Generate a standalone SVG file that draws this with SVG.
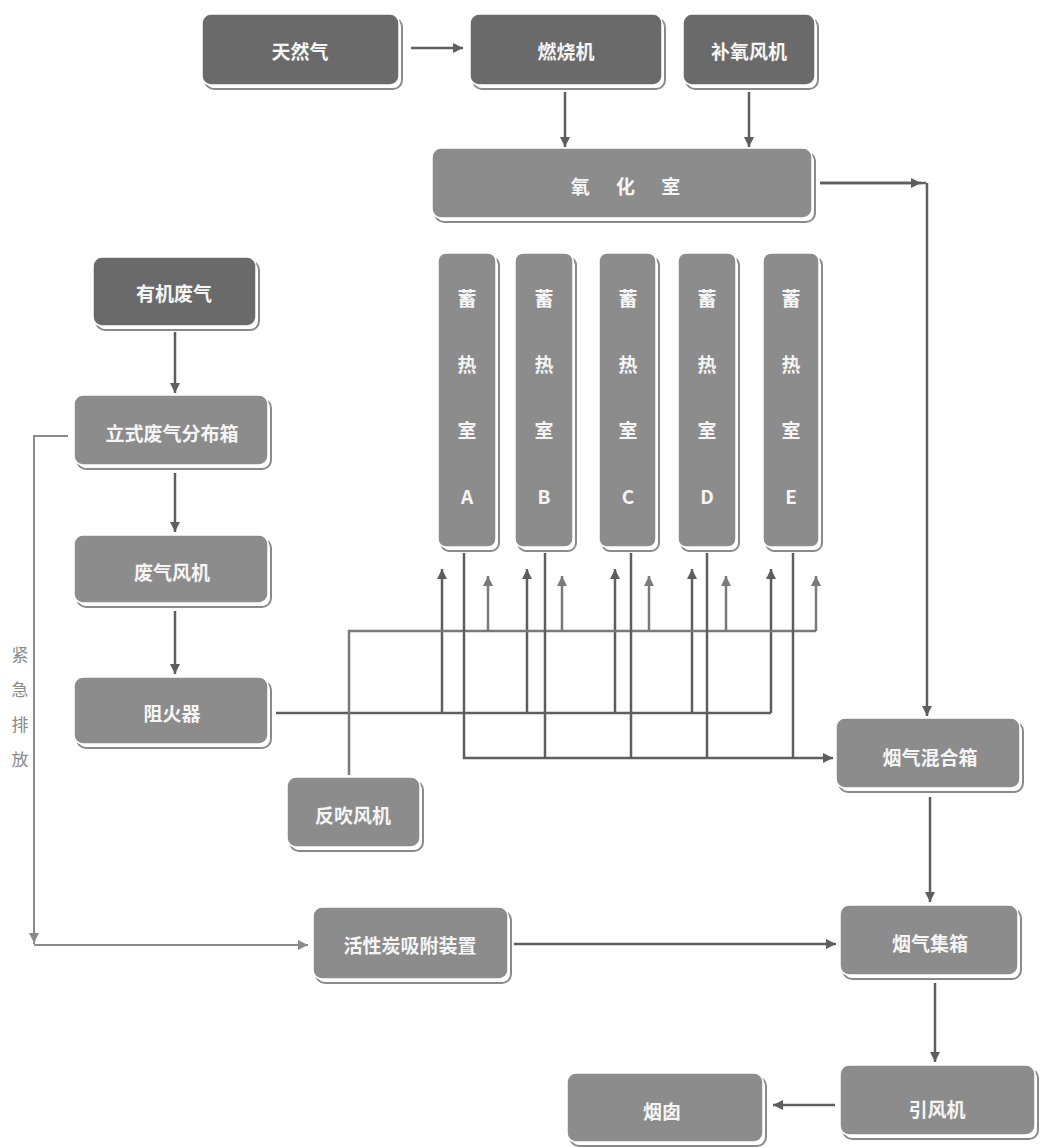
<svg xmlns="http://www.w3.org/2000/svg" width="1041" height="1148" viewBox="0 0 1041 1148">
<style>
.sh{fill:#fff;stroke:#8a8a8a;stroke-width:2}
.bx{fill:#8c8c8c;stroke:#fff;stroke-width:1.5}
.dk{fill:#6a6a6a;stroke:#fff;stroke-width:1.5}
.t{fill:#f5f5f5;font-family:"Noto Sans CJK SC","Noto Sans",sans-serif;font-size:19px;font-weight:bold;text-anchor:middle;dominant-baseline:central}
.tv{fill:#f5f5f5;font-family:"Noto Sans CJK SC","Noto Sans",sans-serif;font-size:19px;font-weight:bold;text-anchor:middle;dominant-baseline:central}
.c{fill:none;stroke:#5e5e5e;stroke-width:2.5}
.cl{fill:none;stroke:#7a7a7a;stroke-width:2.5}
.ce{fill:none;stroke:#8a8a8a;stroke-width:2}
.lab{fill:#8a8a8a;font-family:"Noto Sans CJK SC",sans-serif;font-size:17px;text-anchor:middle;dominant-baseline:central}
</style>
<defs>
<marker id="ah" viewBox="0 0 10 10" refX="10" refY="5" markerWidth="10" markerHeight="10" markerUnits="userSpaceOnUse" orient="auto"><path d="M0,0 L10,5 L0,10 z" fill="#5e5e5e"/></marker>
<marker id="ahl" viewBox="0 0 10 10" refX="10" refY="5" markerWidth="10" markerHeight="10" markerUnits="userSpaceOnUse" orient="auto"><path d="M0,0 L10,5 L0,10 z" fill="#7a7a7a"/></marker>
<marker id="ahe" viewBox="0 0 10 10" refX="10" refY="5" markerWidth="10" markerHeight="10" markerUnits="userSpaceOnUse" orient="auto"><path d="M0,0 L10,5 L0,10 z" fill="#8a8a8a"/></marker>
</defs>
<rect width="1041" height="1148" fill="#fff"/>

<g id="connectors">
<path class="c" d="M411,48 H463" marker-end="url(#ah)"/>
<path class="c" d="M565,92 V147" marker-end="url(#ah)"/>
<path class="c" d="M749,92 V147" marker-end="url(#ah)"/>
<path class="c" d="M820,183 H926"/>
<path class="c" d="M820,183 H921" marker-end="url(#ah)"/>
<path class="c" d="M927,183 V716" marker-end="url(#ah)"/>
<path class="c" d="M175,332 V393" marker-end="url(#ah)"/>
<path class="c" d="M175,473 V532" marker-end="url(#ah)"/>
<path class="c" d="M175,611 V674" marker-end="url(#ah)"/>
<path class="c" d="M276,713 H771"/>
<path class="c" d="M442,713 V569" marker-end="url(#ah)"/>
<path class="c" d="M527,713 V569" marker-end="url(#ah)"/>
<path class="c" d="M615,713 V569" marker-end="url(#ah)"/>
<path class="c" d="M692,713 V569" marker-end="url(#ah)"/>
<path class="c" d="M771,713 V569" marker-end="url(#ah)"/>
<path class="cl" d="M349,775 V631 H816"/>
<path class="cl" d="M488,631 V576" marker-end="url(#ahl)"/>
<path class="cl" d="M562,631 V576" marker-end="url(#ahl)"/>
<path class="cl" d="M649,631 V576" marker-end="url(#ahl)"/>
<path class="cl" d="M726,631 V576" marker-end="url(#ahl)"/>
<path class="cl" d="M816,631 V576" marker-end="url(#ahl)"/>
<path class="c" d="M464,553 V758 H833" marker-end="url(#ah)"/>
<path class="c" d="M545,553 V758"/>
<path class="c" d="M631,553 V758"/>
<path class="c" d="M707,553 V758"/>
<path class="c" d="M793,553 V758"/>
<path class="c" d="M930,797 V902" marker-end="url(#ah)"/>
<path class="c" d="M514,944 H836" marker-end="url(#ah)"/>
<path class="c" d="M935,983 V1062" marker-end="url(#ah)"/>
<path class="c" d="M835,1105 H773" marker-end="url(#ah)"/>
<path class="ce" d="M68,436 H34 V944"/>
<path class="ce" d="M34,920 V943" marker-end="url(#ahe)"/>
<path class="ce" d="M34,945 H308" marker-end="url(#ahe)"/>
</g>

<g id="label-emergency">
<text class="lab" x="20" y="653">紧</text>
<text class="lab" x="20" y="688">急</text>
<text class="lab" x="20" y="723">排</text>
<text class="lab" x="20" y="758">放</text>
</g>

<g id="n-tianranqi"><rect class="sh" x="205" y="18" width="197" height="71" rx="9"/><rect class="dk" x="202" y="14" width="197" height="71" rx="9"/><text class="t" x="300" y="50">天然气</text></g>
<g id="n-ranshaoji"><rect class="sh" x="473" y="18" width="192" height="71" rx="9"/><rect class="dk" x="470" y="14" width="192" height="71" rx="9"/><text class="t" x="566" y="50">燃烧机</text></g>
<g id="n-buyangfengji"><rect class="sh" x="686" y="18" width="132" height="71" rx="9"/><rect class="dk" x="683" y="14" width="132" height="71" rx="9"/><text class="t" x="749" y="50">补氧风机</text></g>
<g id="n-yanghuashi"><rect class="sh" x="435" y="152" width="380" height="70" rx="9"/><rect class="bx" x="432" y="148" width="380" height="70" rx="9"/><text class="t" x="631" y="185" letter-spacing="11">氧 化 室</text></g>

<g id="n-xureA"><rect class="sh" x="441" y="257" width="58" height="294" rx="8"/><rect class="bx" x="438" y="253" width="58" height="294" rx="8"/><text class="tv" x="467" y="297">蓄</text><text class="tv" x="467" y="363">热</text><text class="tv" x="467" y="429">室</text><text class="tv" x="467" y="495">A</text></g>
<g id="n-xureB"><rect class="sh" x="518" y="257" width="58" height="294" rx="8"/><rect class="bx" x="515" y="253" width="58" height="294" rx="8"/><text class="tv" x="544" y="297">蓄</text><text class="tv" x="544" y="363">热</text><text class="tv" x="544" y="429">室</text><text class="tv" x="544" y="495">B</text></g>
<g id="n-xureC"><rect class="sh" x="602" y="257" width="57" height="294" rx="8"/><rect class="bx" x="599" y="253" width="57" height="294" rx="8"/><text class="tv" x="628" y="297">蓄</text><text class="tv" x="628" y="363">热</text><text class="tv" x="628" y="429">室</text><text class="tv" x="628" y="495">C</text></g>
<g id="n-xureD"><rect class="sh" x="681" y="257" width="58" height="294" rx="8"/><rect class="bx" x="678" y="253" width="58" height="294" rx="8"/><text class="tv" x="707" y="297">蓄</text><text class="tv" x="707" y="363">热</text><text class="tv" x="707" y="429">室</text><text class="tv" x="707" y="495">D</text></g>
<g id="n-xureE"><rect class="sh" x="766" y="257" width="56" height="294" rx="8"/><rect class="bx" x="763" y="253" width="56" height="294" rx="8"/><text class="tv" x="791" y="297">蓄</text><text class="tv" x="791" y="363">热</text><text class="tv" x="791" y="429">室</text><text class="tv" x="791" y="495">E</text></g>

<g id="n-youjifeiqi"><rect class="sh" x="96" y="261" width="163" height="69" rx="9"/><rect class="dk" x="93" y="257" width="163" height="69" rx="9"/><text class="t" x="174" y="292">有机废气</text></g>
<g id="n-lishi"><rect class="sh" x="77" y="399" width="194" height="70" rx="9"/><rect class="bx" x="74" y="395" width="194" height="70" rx="9"/><text class="t" x="172" y="432">立式废气分布箱</text></g>
<g id="n-feiqifengji"><rect class="sh" x="77" y="539" width="194" height="68" rx="9"/><rect class="bx" x="74" y="535" width="194" height="68" rx="9"/><text class="t" x="172" y="571">废气风机</text></g>
<g id="n-zuhuoqi"><rect class="sh" x="77" y="681" width="194" height="67" rx="9"/><rect class="bx" x="74" y="677" width="194" height="67" rx="9"/><text class="t" x="172" y="712">阻火器</text></g>
<g id="n-fanchui"><rect class="sh" x="290" y="781" width="133" height="70" rx="9"/><rect class="bx" x="287" y="777" width="133" height="70" rx="9"/><text class="t" x="353" y="814">反吹风机</text></g>
<g id="n-huoxingtan"><rect class="sh" x="316" y="911" width="195" height="72" rx="9"/><rect class="bx" x="313" y="907" width="195" height="72" rx="9"/><text class="t" x="410" y="944">活性炭吸附装置</text></g>
<g id="n-hunhexiang"><rect class="sh" x="839" y="722" width="184" height="70" rx="9"/><rect class="bx" x="836" y="718" width="184" height="70" rx="9"/><text class="t" x="930" y="756">烟气混合箱</text></g>
<g id="n-jixiang"><rect class="sh" x="843" y="909" width="178" height="70" rx="9"/><rect class="bx" x="840" y="905" width="178" height="70" rx="9"/><text class="t" x="930" y="942">烟气集箱</text></g>
<g id="n-yinfengji"><rect class="sh" x="843" y="1069" width="195" height="70" rx="9"/><rect class="bx" x="840" y="1065" width="195" height="70" rx="9"/><text class="t" x="937" y="1108">引风机</text></g>
<g id="n-yancong"><rect class="sh" x="570" y="1077" width="196" height="69" rx="9"/><rect class="bx" x="567" y="1073" width="196" height="69" rx="9"/><text class="t" x="662" y="1110">烟囱</text></g>
</svg>
